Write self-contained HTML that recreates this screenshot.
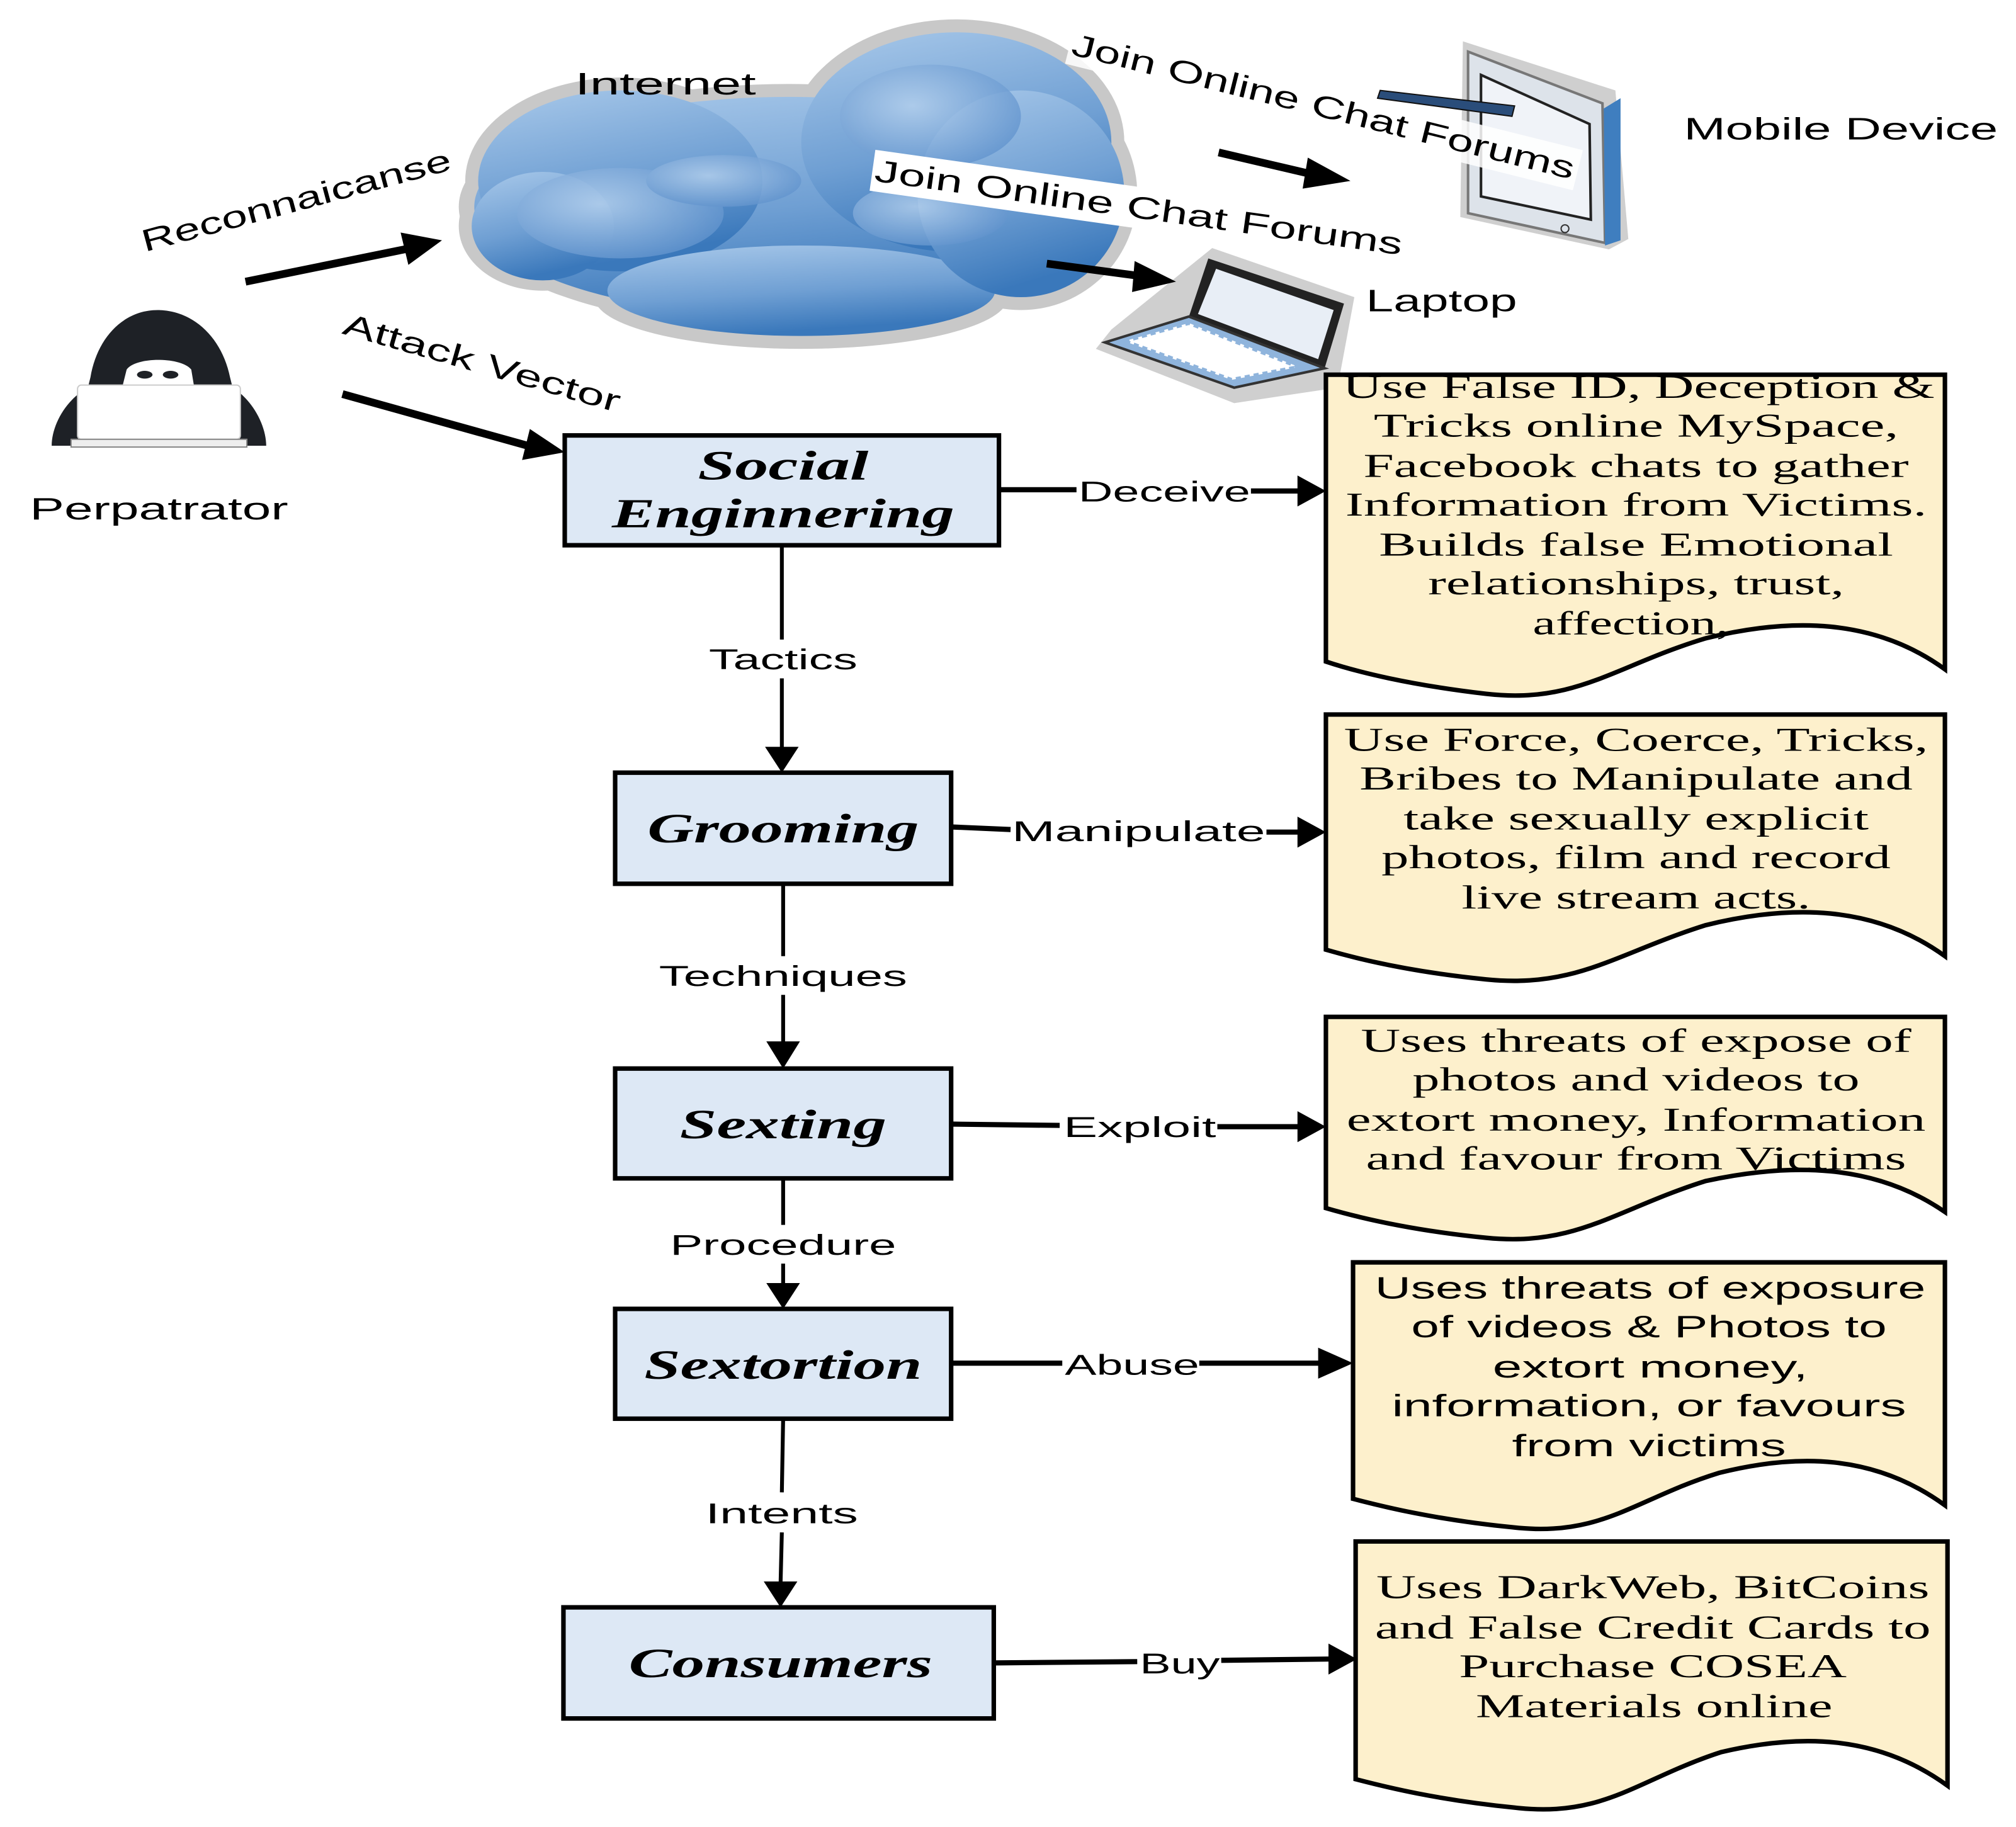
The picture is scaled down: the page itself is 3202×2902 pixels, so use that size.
<!DOCTYPE html>
<html><head><meta charset="utf-8"><style>
html,body{margin:0;padding:0;background:#fff;}
svg{display:block}
.sans{font-family:"Liberation Sans","DejaVu Sans",sans-serif;}
.serif{font-family:"Liberation Serif",serif;}
</style></head><body>
<svg width="3202" height="2902" viewBox="0 0 1560 1414" preserveAspectRatio="none" xmlns="http://www.w3.org/2000/svg">
<defs>
<linearGradient id="cg" x1="0" y1="0" x2="0.3" y2="1">
<stop offset="0" stop-color="#a9c9ea"/><stop offset="0.6" stop-color="#6f9fd3"/><stop offset="1" stop-color="#3a78bb"/>
</linearGradient>
<radialGradient id="cl" cx="0.4" cy="0.4" r="0.7"><stop offset="0" stop-color="#b7d2ee"/><stop offset="1" stop-color="#5b8fcb"/></radialGradient>
</defs>
<!-- cloud -->
<g>
<g fill="#c8c8c8">
<ellipse cx="610" cy="160" rx="255" ry="95"/><ellipse cx="740" cy="110" rx="130" ry="95"/><ellipse cx="480" cy="140" rx="120" ry="80"/><ellipse cx="620" cy="230" rx="160" ry="40"/><ellipse cx="420" cy="175" rx="65" ry="50"/><ellipse cx="790" cy="150" rx="90" ry="90"/>
</g>
<g fill="url(#cg)">
<ellipse cx="610" cy="160" rx="243" ry="85"/><ellipse cx="740" cy="110" rx="120" ry="85"/><ellipse cx="480" cy="140" rx="110" ry="70"/><ellipse cx="620" cy="225" rx="150" ry="35"/><ellipse cx="420" cy="175" rx="55" ry="42"/><ellipse cx="790" cy="150" rx="80" ry="80"/>
</g>
<g fill="url(#cl)" opacity="0.8">
<ellipse cx="480" cy="165" rx="80" ry="35"/><ellipse cx="720" cy="90" rx="70" ry="40"/><ellipse cx="720" cy="165" rx="60" ry="25"/><ellipse cx="560" cy="140" rx="60" ry="20"/>
</g>
</g>
<text x="445" y="73" class="sans" font-size="24" textLength="140" lengthAdjust="spacingAndGlyphs">Internet</text>
<!-- tablet -->
<g>
<path d="M1132,32 L1250,70 L1260,185 L1245,193 L1130,168 Z" fill="#cfcfcf"/>
<path d="M1136,40 L1240,80 L1242,188 L1136,165 Z" fill="#dde3ea" stroke="#777" stroke-width="2"/>
<path d="M1146,58 L1230,96 L1231,170 L1146,152 Z" fill="#f0f3f8" stroke="#222" stroke-width="2"/>
<path d="M1241,84 L1254,76 L1254,186 L1242,190 Z" fill="#3f7ebf"/>
<circle cx="1211" cy="177" r="3" fill="none" stroke="#333"/>
<path d="M1068,70 L1172,82 L1170,90 L1066,76 Z" fill="#2a4d7a" stroke="#111"/>
</g>
<text x="1303" y="108" class="sans" font-size="24" textLength="243" lengthAdjust="spacingAndGlyphs">Mobile Device</text>
<!-- laptop -->
<g>
<path d="M938,192 L1048,230 L1035,300 L955,312 L848,270 L860,255 Z" fill="#cfcfcf"/>
<path d="M935,200 L1040,235 L1025,285 L920,245 Z" fill="#222"/>
<path d="M941,208 L1032,240 L1020,278 L927,243 Z" fill="#e8eef6"/>
<path d="M855,265 L920,245 L1025,285 L955,300 Z" fill="#8fb4dc" stroke="#333" stroke-width="2"/>
<path d="M870,264 L920,250 L1005,284 L953,294 Z" fill="#fff" stroke="#8fb4dc" stroke-dasharray="4 3" stroke-width="3"/>
</g>
<text x="1057" y="241" class="sans" font-size="24" textLength="117" lengthAdjust="spacingAndGlyphs">Laptop</text>
<!-- join forum labels -->
<g transform="translate(676,140) rotate(8)"><rect x="-2" y="-24" width="416" height="32" fill="#fff"/><text x="0" y="0" class="sans" font-size="24" textLength="412" lengthAdjust="spacingAndGlyphs">Join Online Chat Forums</text></g>
<g transform="translate(828,42) rotate(14)"><rect x="-2" y="-24" width="405" height="32" fill="#fff" opacity="0.85"/><text x="0" y="0" class="sans" font-size="24" textLength="400" lengthAdjust="spacingAndGlyphs">Join Online Chat Forums</text></g>
<!-- thick arrows -->
<g stroke="#000" stroke-width="6" fill="#000">
<line x1="943" y1="118" x2="1020" y2="136"/><path d="M1012,122 L1045,140 L1008,146 Z" stroke="none"/>
<line x1="810" y1="204" x2="885" y2="214"/><path d="M878,202 L910,218 L876,226 Z" stroke="none"/>
<line x1="190" y1="218" x2="318" y2="192"/><path d="M310,180 L342,186 L316,205 Z" stroke="none"/>
<line x1="265" y1="305" x2="412" y2="346"/><path d="M410,332 L437,350 L404,356 Z" stroke="none"/>
</g>
<g transform="translate(112,195) rotate(-15)"><text class="sans" font-size="24" textLength="247" lengthAdjust="spacingAndGlyphs">Reconnaicanse</text></g>
<g transform="translate(264,258) rotate(16)"><text class="sans" font-size="24" textLength="222" lengthAdjust="spacingAndGlyphs">Attack Vector</text></g>
<!-- hacker -->
<g>
<path d="M122,240 C95,240 75,262 70,292 L68,300 C50,310 40,330 40,345 L206,345 C206,330 196,310 180,300 L178,292 C172,262 150,240 122,240 Z" fill="#1e2126"/>
<path d="M98,286 C105,276 140,276 148,286 L152,310 L92,310 Z" fill="#fff"/>
<ellipse cx="112" cy="290" rx="6" ry="3" fill="#1e2126"/><ellipse cx="132" cy="290" rx="6" ry="3" fill="#1e2126"/>
<rect x="60" y="298" width="126" height="42" rx="3" fill="#fff" stroke="#ccc"/>
<rect x="55" y="340" width="136" height="6" fill="#eee" stroke="#888"/>
</g>
<text x="23" y="402" class="sans" font-size="24" textLength="200" lengthAdjust="spacingAndGlyphs">Perpatrator</text>
<!-- boxes -->
<g fill="#dde8f5" stroke="#000" stroke-width="3.5">
<rect x="437" y="337" width="336" height="85"/>
<rect x="476" y="598" width="260" height="86"/>
<rect x="476" y="827" width="260" height="85"/>
<rect x="476" y="1013" width="260" height="85"/>
<rect x="436" y="1244" width="333" height="86"/>
</g>
<g class="serif" font-weight="bold" font-style="italic" font-size="32" text-anchor="middle">
<text x="606" y="371" textLength="132" lengthAdjust="spacingAndGlyphs">Social</text>
<text x="606" y="408" textLength="265" lengthAdjust="spacingAndGlyphs">Enginnering</text>
<text x="606" y="652" textLength="210" lengthAdjust="spacingAndGlyphs">Grooming</text>
<text x="606" y="881" textLength="160" lengthAdjust="spacingAndGlyphs">Sexting</text>
<text x="606" y="1067" textLength="215" lengthAdjust="spacingAndGlyphs">Sextortion</text>
<text x="604" y="1298" textLength="235" lengthAdjust="spacingAndGlyphs">Consumers</text>
</g>
<!-- vertical connectors -->
<g stroke="#000" stroke-width="3">
<line x1="605" y1="422" x2="605" y2="495"/><line x1="605" y1="525" x2="605" y2="580"/>
<line x1="606" y1="684" x2="606" y2="740"/><line x1="606" y1="770" x2="606" y2="808"/>
<line x1="606" y1="912" x2="606" y2="948"/><line x1="606" y1="978" x2="606" y2="995"/>
<line x1="606" y1="1098" x2="605" y2="1155"/><line x1="605" y1="1186" x2="604" y2="1226"/>
</g>
<g fill="#000">
<path d="M592,578 L618,578 L605,598 Z"/><path d="M593,806 L619,806 L606,827 Z"/>
<path d="M593,993 L619,993 L606,1013 Z"/><path d="M591,1224 L617,1224 L604,1244 Z"/>
</g>
<g class="sans" font-size="22" text-anchor="middle">
<text x="606" y="518" textLength="115" lengthAdjust="spacingAndGlyphs">Tactics</text>
<text x="606" y="763" textLength="192" lengthAdjust="spacingAndGlyphs">Techniques</text>
<text x="606" y="971" textLength="175" lengthAdjust="spacingAndGlyphs">Procedure</text>
<text x="605" y="1179" textLength="118" lengthAdjust="spacingAndGlyphs">Intents</text>
</g>
<!-- horizontal connectors -->
<g stroke="#000" stroke-width="4">
<line x1="773" y1="379" x2="833" y2="379"/><line x1="968" y1="380" x2="1006" y2="380"/>
<line x1="736" y1="640" x2="782" y2="642"/><line x1="980" y1="644" x2="1006" y2="644"/>
<line x1="736" y1="870" x2="820" y2="871"/><line x1="942" y1="872" x2="1006" y2="872"/>
<line x1="736" y1="1055" x2="822" y2="1055"/><line x1="928" y1="1055" x2="1026" y2="1055"/>
<line x1="769" y1="1287" x2="880" y2="1286"/><line x1="945" y1="1285" x2="1030" y2="1284"/>
</g>
<g fill="#000">
<path d="M1004,368 L1026,380 L1004,392 Z"/><path d="M1004,632 L1026,644 L1004,656 Z"/>
<path d="M1004,860 L1026,872 L1004,884 Z"/><path d="M1020,1043 L1047,1055 L1020,1067 Z"/>
<path d="M1028,1272 L1050,1284 L1028,1296 Z"/>
</g>
<g class="sans" font-size="22" text-anchor="middle">
<text x="901" y="388" textLength="133" lengthAdjust="spacingAndGlyphs">Deceive</text>
<text x="881" y="651" textLength="196" lengthAdjust="spacingAndGlyphs">Manipulate</text>
<text x="882" y="880" textLength="118" lengthAdjust="spacingAndGlyphs">Exploit</text>
<text x="876" y="1064" textLength="104" lengthAdjust="spacingAndGlyphs">Abuse</text>
<text x="913" y="1295" textLength="62" lengthAdjust="spacingAndGlyphs">Buy</text>
</g>
<!-- documents -->
<g fill="#fdf0cc" stroke="#000" stroke-width="3.5">
<path d="M1026,290 H1505 V518 C1450,478 1385,478 1320,494 C1250,515 1220,545 1150,537 C1090,530 1050,520 1026,512 Z"/>
<path d="M1026,553 H1505 V740 C1450,700 1385,700 1320,716 C1250,738 1220,765 1150,758 C1090,752 1050,742 1026,735 Z"/>
<path d="M1026,787 H1505 V938 C1450,900 1385,900 1320,914 C1250,936 1220,965 1150,958 C1090,952 1050,942 1026,935 Z"/>
<path d="M1047,977 H1505 V1165 C1450,1125 1390,1125 1330,1140 C1265,1160 1240,1190 1170,1182 C1110,1176 1070,1166 1047,1160 Z"/>
<path d="M1049,1193 H1507 V1382 C1452,1342 1392,1342 1332,1356 C1267,1377 1242,1407 1172,1399 C1112,1393 1072,1383 1049,1377 Z"/>
</g>
<g class="serif" font-size="26" text-anchor="middle">
<text x="1268" y="308" textLength="458" lengthAdjust="spacingAndGlyphs">Use False ID, Deception &amp;</text>
<text x="1266" y="338" textLength="406" lengthAdjust="spacingAndGlyphs">Tricks online MySpace,</text>
<text x="1266" y="369" textLength="422" lengthAdjust="spacingAndGlyphs">Facebook chats to gather</text>
<text x="1266" y="399" textLength="450" lengthAdjust="spacingAndGlyphs">Information from Victims.</text>
<text x="1266" y="430" textLength="398" lengthAdjust="spacingAndGlyphs">Builds false  Emotional</text>
<text x="1266" y="460" textLength="322" lengthAdjust="spacingAndGlyphs">relationships, trust,</text>
<text x="1262" y="491" textLength="152" lengthAdjust="spacingAndGlyphs">affection,</text>
<text x="1266" y="581" textLength="452" lengthAdjust="spacingAndGlyphs">Use Force, Coerce, Tricks,</text>
<text x="1266" y="611" textLength="428" lengthAdjust="spacingAndGlyphs">Bribes to Manipulate and</text>
<text x="1266" y="642" textLength="360" lengthAdjust="spacingAndGlyphs">take sexually explicit</text>
<text x="1266" y="672" textLength="394" lengthAdjust="spacingAndGlyphs">photos, film and record</text>
<text x="1266" y="703" textLength="270" lengthAdjust="spacingAndGlyphs">live stream acts.</text>
<text x="1266" y="814" textLength="426" lengthAdjust="spacingAndGlyphs">Uses threats of expose of</text>
<text x="1266" y="844" textLength="346" lengthAdjust="spacingAndGlyphs">photos and videos to</text>
<text x="1266" y="875" textLength="448" lengthAdjust="spacingAndGlyphs">extort money, Information</text>
<text x="1266" y="905" textLength="418" lengthAdjust="spacingAndGlyphs">and favour from Victims</text>
<text x="1279" y="1237" textLength="428" lengthAdjust="spacingAndGlyphs">Uses DarkWeb, BitCoins</text>
<text x="1279" y="1268" textLength="430" lengthAdjust="spacingAndGlyphs">and False Credit Cards to</text>
<text x="1279" y="1298" textLength="300" lengthAdjust="spacingAndGlyphs">Purchase COSEA</text>
<text x="1280" y="1329" textLength="276" lengthAdjust="spacingAndGlyphs">Materials online</text>
</g>
<g class="sans" font-size="24" text-anchor="middle">
<text x="1277" y="1005" textLength="426" lengthAdjust="spacingAndGlyphs">Uses threats of exposure</text>
<text x="1276" y="1035" textLength="368" lengthAdjust="spacingAndGlyphs">of videos &amp; Photos to</text>
<text x="1277" y="1066" textLength="244" lengthAdjust="spacingAndGlyphs">extort money,</text>
<text x="1276" y="1096" textLength="398" lengthAdjust="spacingAndGlyphs">information, or favours</text>
<text x="1276" y="1127" textLength="212" lengthAdjust="spacingAndGlyphs">from victims</text>
</g>
</svg>
</body></html>
